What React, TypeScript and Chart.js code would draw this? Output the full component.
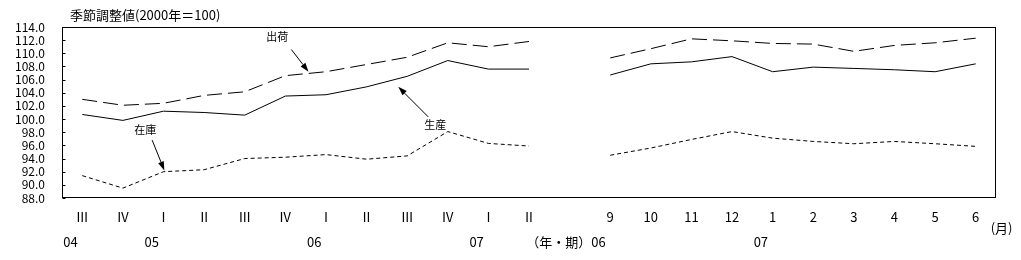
import React, { useEffect, useRef } from "react";
import { Chart, registerables } from "chart.js";

Chart.register(...registerables);

// Category (quarter / month) labels; empty slot separates quarterly and monthly parts
const categories = ["Ⅲ", "Ⅳ", "Ⅰ", "Ⅱ", "Ⅲ", "Ⅳ", "Ⅰ", "Ⅱ", "Ⅲ", "Ⅳ", "Ⅰ", "Ⅱ", "", "9", "10", "11", "12", "1", "2", "3", "4", "5", "6"];
const yearLabels = ["04", "", "05", "", "", "", "06", "", "", "", "07", "", "", "06", "", "", "", "07", "", "", "", "", ""];

const shipments = [103.0, 102.1, 102.4, 103.6, 104.15, 106.6, 107.2, 108.3, 109.4, 111.6, 111.0, 111.8, null, 109.3, 110.7, 112.2, 111.9, 111.5, 111.4, 110.3, 111.2, 111.6, 112.3];
const production = [100.7, 99.8, 101.2, 101.0, 100.6, 103.5, 103.7, 104.9, 106.5, 108.9, 107.6, 107.6, null, 106.7, 108.4, 108.7, 109.5, 107.2, 107.9, 107.7, 107.5, 107.2, 108.4];
const inventory = [91.4, 89.5, 92.0, 92.3, 94.0, 94.2, 94.6, 93.9, 94.4, 98.1, 96.3, 95.9, null, 94.5, 95.6, 96.9, 98.1, 97.1, 96.6, 96.25, 96.6, 96.25, 95.85];

const yMin = 88;
const yMax = 114;
const yStep = 2;

const titleText = "季節調整値(2000年＝100)";
const periodPrefix = "（年・期）";
const monthUnit = "(月)";

// Annotations in data coordinates: [category index, value]
const annotationTexts = ["出荷", "生産", "在庫"];
const annotationLabelPos = [[4.8, 112.55], [8.69, 99.1], [1.55, 98.34]];
const annotationFrom = [[5.15, 110.56], [8.52, 100.33], [1.72, 96.8]];
const annotationTo = [[5.57, 107.2], [7.78, 104.9], [2.02, 92.2]];

const FONT = '"Noto Sans CJK JP", "Noto Sans", sans-serif';

export default function App() {
  const ref = useRef<HTMLCanvasElement>(null);

  useEffect(() => {
    document.body.style.margin = "0";
    const canvas = ref.current;
    if (!canvas) return;

    const deco = {
      id: "deco",
      afterDraw(chart: any) {
        const { ctx, chartArea: a, scales } = chart;
        const xs = scales.x;
        const ys = scales.y;
        ctx.save();
        ctx.strokeStyle = "#000";
        ctx.fillStyle = "#000";
        ctx.lineWidth = 1;
        // frame
        const L = Math.round(a.left) + 0.5;
        const T = Math.round(a.top) + 0.5;
        const R = Math.round(a.right) - 0.5;
        const B = Math.round(a.bottom) - 0.5;
        ctx.strokeRect(L, T, R - L, B - T);
        // inner tick marks on left axis
        for (let v = yMin; v <= yMax; v += yStep) {
          const py = Math.round(ys.getPixelForValue(v)) + 0.5;
          ctx.beginPath();
          ctx.moveTo(L, py);
          ctx.lineTo(L + 3, py);
          ctx.stroke();
        }
        // title
        ctx.font = `13px ${FONT}`;
        ctx.textAlign = "left";
        ctx.textBaseline = "middle";
        ctx.fillText(titleText, a.left + 8, a.top - 12);
        // category labels
        ctx.textAlign = "center";
        ctx.font = `13px ${FONT}`;
        categories.forEach((c, i) => {
          if (!c) return;
          ctx.fillText(c, xs.getPixelForValue(i), a.bottom + 19);
        });
        // year labels
        ctx.textAlign = "left";
        yearLabels.forEach((yl, i) => {
          if (!yl) return;
          const px = xs.getPixelForValue(i) - 19;
          ctx.fillText(yl, px, a.bottom + 44);
          if (i === 13) {
            ctx.textAlign = "right";
            ctx.fillText(periodPrefix, px, a.bottom + 44);
            ctx.textAlign = "left";
          }
        });
        // month unit
        ctx.fillText(monthUnit, xs.getPixelForValue(categories.length - 1) + 15, a.bottom + 30);
        // annotations
        ctx.font = `11px ${FONT}`;
        ctx.textAlign = "center";
        annotationTexts.forEach((t, k) => {
          const lp = annotationLabelPos[k];
          ctx.fillText(t, xs.getPixelForValue(lp[0]), ys.getPixelForValue(lp[1]));
          const fx = xs.getPixelForValue(annotationFrom[k][0]);
          const fy = ys.getPixelForValue(annotationFrom[k][1]);
          const tx = xs.getPixelForValue(annotationTo[k][0]);
          const ty = ys.getPixelForValue(annotationTo[k][1]);
          const ang = Math.atan2(ty - fy, tx - fx);
          const head = 9;
          const hw = 3;
          const bx = tx - head * Math.cos(ang);
          const by = ty - head * Math.sin(ang);
          ctx.beginPath();
          ctx.moveTo(fx, fy);
          ctx.lineTo(bx, by);
          ctx.stroke();
          ctx.beginPath();
          ctx.moveTo(tx, ty);
          ctx.lineTo(bx + hw * Math.sin(ang), by - hw * Math.cos(ang));
          ctx.lineTo(bx - hw * Math.sin(ang), by + hw * Math.cos(ang));
          ctx.closePath();
          ctx.fill();
        });
        ctx.restore();
      },
    };

    const chart = new Chart(canvas, {
      type: "line",
      data: {
        labels: categories,
        datasets: [
          { label: "出荷", data: shipments, borderColor: "#000", borderWidth: 1, borderDash: [15, 6], pointRadius: 0, spanGaps: false, tension: 0 },
          { label: "生産", data: production, borderColor: "#000", borderWidth: 1, pointRadius: 0, spanGaps: false, tension: 0 },
          { label: "在庫", data: inventory, borderColor: "#000", borderWidth: 1, borderDash: [4, 3], pointRadius: 0, spanGaps: false, tension: 0 },
        ],
      },
      options: {
        responsive: false,
        devicePixelRatio: 1,
        animation: false,
        layout: { padding: { left: 0, right: 25, top: 27, bottom: 62 } },
        plugins: { legend: { display: false }, title: { display: false }, tooltip: { enabled: false } },
        scales: {
          x: {
            type: "category",
            offset: true,
            grid: { display: false, drawTicks: false },
            border: { display: false },
            ticks: { display: false },
            afterFit(scale: any) {
              scale.height = 0;
            },
          },
          y: {
            min: yMin,
            max: yMax,
            grid: { display: false, drawTicks: false },
            border: { display: false },
            ticks: {
              stepSize: yStep,
              autoSkip: false,
              color: "#000",
              padding: 17,
              font: { family: FONT, size: 12, lineHeight: 1 },
              callback: (v: any) => Number(v).toFixed(1),
            },
            afterFit(scale: any) {
              scale.width = 62;
            },
          },
        },
      },
      plugins: [deco],
    });
    return () => chart.destroy();
  }, []);

  return <canvas ref={ref} width={1021} height={260} style={{ display: "block" }} />;
}
